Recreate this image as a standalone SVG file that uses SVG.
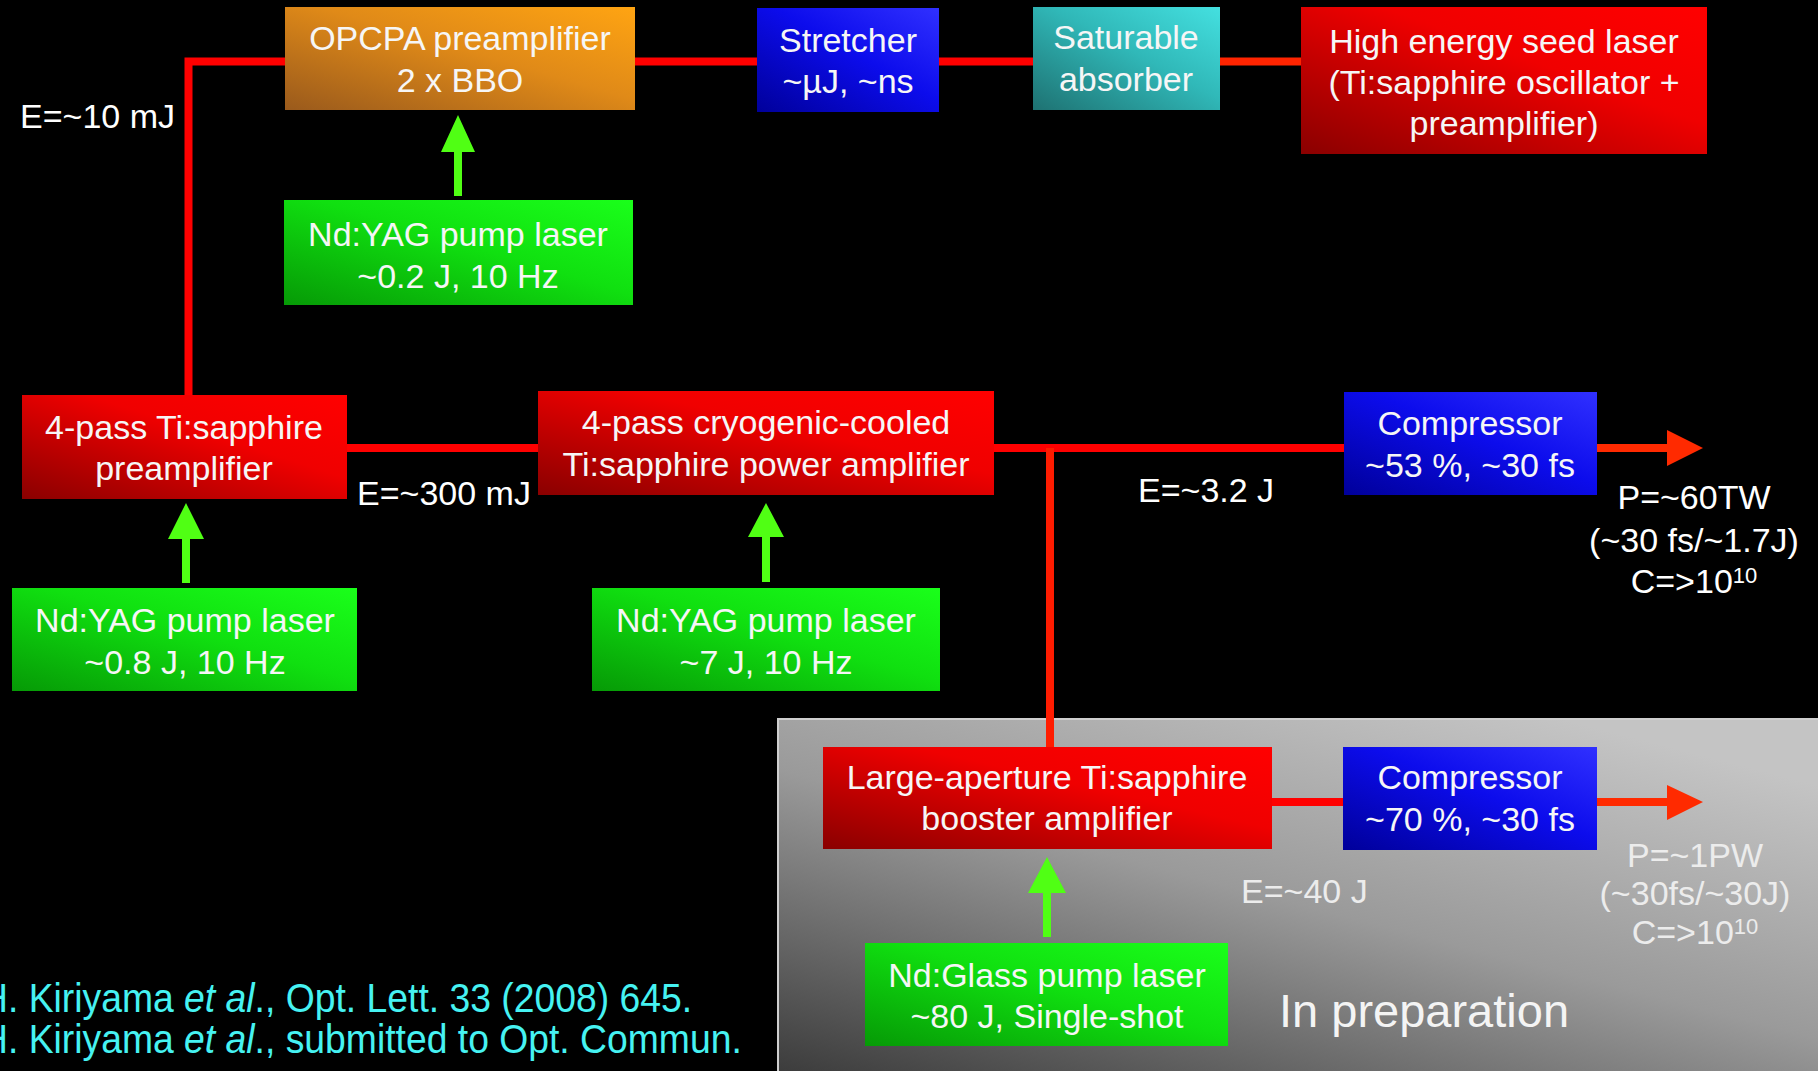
<svg xmlns="http://www.w3.org/2000/svg" width="1818" height="1071" viewBox="0 0 1818 1071">
<defs>
<style>
.t{font-family:"Liberation Sans",Arial,Helvetica,sans-serif;font-size:34px;fill:#f6f6f6;text-anchor:middle}
.l{font-family:"Liberation Sans",Arial,Helvetica,sans-serif;font-size:34px;fill:#ffffff}
.g{font-family:"Liberation Sans",Arial,Helvetica,sans-serif;font-size:34px;fill:#ececec}
.ref{font-family:"Liberation Sans",Arial,Helvetica,sans-serif;font-size:41px;fill:#46f2f2}
.beam{fill:none;stroke:#ff0000;stroke-width:8}
.pump{fill:#50ff14}
.out{fill:#ff2a00}
</style>
<linearGradient id="gRed" x1="1" y1="0" x2="0" y2="1">
<stop offset="0" stop-color="#ff0000"/><stop offset="0.4" stop-color="#f00000"/><stop offset="1" stop-color="#8a0000"/>
</linearGradient>
<linearGradient id="gBlue" x1="1" y1="0" x2="0" y2="1">
<stop offset="0" stop-color="#3030ff"/><stop offset="0.45" stop-color="#0c0cec"/><stop offset="1" stop-color="#00009a"/>
</linearGradient>
<linearGradient id="gGreen" x1="1" y1="0" x2="0" y2="1">
<stop offset="0" stop-color="#1aff1a"/><stop offset="0.45" stop-color="#10e010"/><stop offset="1" stop-color="#069a06"/>
</linearGradient>
<linearGradient id="gOrange" x1="1" y1="0" x2="0" y2="1">
<stop offset="0" stop-color="#ffa412"/><stop offset="0.45" stop-color="#e08a18"/><stop offset="1" stop-color="#9a5a1c"/>
</linearGradient>
<linearGradient id="gTeal" x1="1" y1="0" x2="0" y2="1">
<stop offset="0" stop-color="#44e0e0"/><stop offset="0.45" stop-color="#30b8b8"/><stop offset="1" stop-color="#1e7272"/>
</linearGradient>
<linearGradient id="gPanel" x1="0" y1="1" x2="0.75" y2="0">
<stop offset="0" stop-color="#3a3a3a"/><stop offset="0.55" stop-color="#9a9a9a"/><stop offset="1" stop-color="#c4c4c4"/>
</linearGradient>
</defs>

<rect x="0" y="0" width="1818" height="1071" fill="#000000"/>

<g id="panel-in-preparation">
<rect x="778" y="719" width="1045" height="360" fill="url(#gPanel)" stroke="#cfcfcf" stroke-width="2"/>
<text x="1279" y="1027" style="font-family:'Liberation Sans',Arial,sans-serif;font-size:47px;fill:#f4f4f4">In preparation</text>
</g>

<g id="connectors">
<path class="beam" d="M285 61.5 H188.5 V395"/>
<path class="beam" d="M635 61.5 H757"/>
<path class="beam" d="M939 61.5 H1033"/>
<path class="beam" d="M1220 61.5 H1301" style="stroke:#ff2400"/>
<path class="beam" d="M347 448 H538"/>
<path class="beam" d="M994 448 H1344"/>
<path class="beam" d="M1050 448 V747" style="stroke:#ff1c00"/>
<path class="beam" d="M1272 802 H1343"/>
<path class="out" d="M1597 444 H1667 V430 L1703 448 L1667 466 V452 H1597 Z"/>
<path class="out" d="M1597 798 H1667 V785 L1703 802 L1667 820 V806 H1597 Z"/>
<path class="pump" d="M454 196 V152 H441 L458 115 L475 152 H462 V196 Z"/>
<path class="pump" d="M182 583 V539 H168 L186 503 L204 539 H190 V583 Z"/>
<path class="pump" d="M762 582 V537 H748 L766 503 L784 537 H770 V582 Z"/>
<path class="pump" d="M1043 937 V893 H1028 L1047 857 L1066 893 H1051 V937 Z"/>
</g>

<g id="opcpa">
<rect x="285" y="7" width="350" height="103" fill="url(#gOrange)"/>
<text class="t" x="460" y="50">OPCPA preamplifier</text>
<text class="t" x="460" y="92">2 x BBO</text>
</g>

<g id="stretcher">
<rect x="757" y="8" width="182" height="104" fill="url(#gBlue)"/>
<text class="t" x="848" y="52">Stretcher</text>
<text class="t" x="848" y="93">~µJ, ~ns</text>
</g>

<g id="saturable-absorber">
<rect x="1033" y="7" width="187" height="103" fill="url(#gTeal)"/>
<text class="t" x="1126" y="49">Saturable</text>
<text class="t" x="1126" y="91">absorber</text>
</g>

<g id="seed-laser">
<rect x="1301" y="7" width="406" height="147" fill="url(#gRed)"/>
<text class="t" x="1504" y="53">High energy seed laser</text>
<text class="t" x="1504" y="94">(Ti:sapphire oscillator +</text>
<text class="t" x="1504" y="135">preamplifier)</text>
</g>

<g id="pump-opcpa">
<rect x="284" y="200" width="349" height="105" fill="url(#gGreen)"/>
<text class="t" x="458" y="246">Nd:YAG pump laser</text>
<text class="t" x="458" y="288">~0.2 J, 10 Hz</text>
</g>

<g id="preamp">
<rect x="22" y="395" width="325" height="104" fill="url(#gRed)"/>
<text class="t" x="184" y="439">4-pass Ti:sapphire</text>
<text class="t" x="184" y="480">preamplifier</text>
</g>

<g id="power-amp">
<rect x="538" y="391" width="456" height="104" fill="url(#gRed)"/>
<text class="t" x="766" y="434">4-pass cryogenic-cooled</text>
<text class="t" x="766" y="476">Ti:sapphire power amplifier</text>
</g>

<g id="pump-preamp">
<rect x="12" y="588" width="345" height="103" fill="url(#gGreen)"/>
<text class="t" x="185" y="632">Nd:YAG pump laser</text>
<text class="t" x="185" y="674">~0.8 J, 10 Hz</text>
</g>

<g id="pump-power">
<rect x="592" y="588" width="348" height="103" fill="url(#gGreen)"/>
<text class="t" x="766" y="632">Nd:YAG pump laser</text>
<text class="t" x="766" y="674">~7 J, 10 Hz</text>
</g>

<g id="compressor-1">
<rect x="1344" y="392" width="253" height="103" fill="url(#gBlue)"/>
<text class="t" x="1470" y="435">Compressor</text>
<text class="t" x="1470" y="477">~53 %, ~30 fs</text>
</g>

<g id="booster">
<rect x="823" y="747" width="449" height="102" fill="url(#gRed)"/>
<text class="t" x="1047" y="789">Large-aperture Ti:sapphire</text>
<text class="t" x="1047" y="830">booster amplifier</text>
</g>

<g id="compressor-2">
<rect x="1343" y="747" width="254" height="103" fill="url(#gBlue)"/>
<text class="t" x="1470" y="789">Compressor</text>
<text class="t" x="1470" y="831">~70 %, ~30 fs</text>
</g>

<g id="pump-booster">
<rect x="865" y="943" width="363" height="103" fill="url(#gGreen)"/>
<text class="t" x="1047" y="987">Nd:Glass pump laser</text>
<text class="t" x="1047" y="1028">~80 J, Single-shot</text>
</g>

<g id="labels">
<text class="l" x="20" y="128">E=~10 mJ</text>
<text class="l" x="357" y="505">E=~300 mJ</text>
<text class="l" x="1138" y="502">E=~3.2 J</text>
<text class="l" x="1694" y="509" text-anchor="middle">P=~60TW</text>
<text class="l" x="1694" y="552" text-anchor="middle">(~30 fs/~1.7J)</text>
<text class="l" x="1694" y="593" text-anchor="middle">C=&gt;10<tspan font-size="22" dy="-10">10</tspan></text>
<text class="g" x="1241" y="903">E=~40 J</text>
<text class="g" x="1695" y="867" text-anchor="middle" font-size="33">P=~1PW</text>
<text class="g" x="1695" y="905" text-anchor="middle" font-size="33">(~30fs/~30J)</text>
<text class="g" x="1695" y="944" text-anchor="middle" font-size="33">C=&gt;10<tspan font-size="22" dy="-10">10</tspan></text>
</g>

<g id="references">
<text class="ref" transform="translate(-19 1012) scale(0.91 1)" x="0" y="0">H. Kiriyama <tspan font-style="italic">et al</tspan>., Opt. Lett. 33 (2008) 645.</text>
<text class="ref" transform="translate(-19 1053) scale(0.91 1)" x="0" y="0">H. Kiriyama <tspan font-style="italic">et al</tspan>., submitted to Opt. Commun.</text>
</g>
</svg>
